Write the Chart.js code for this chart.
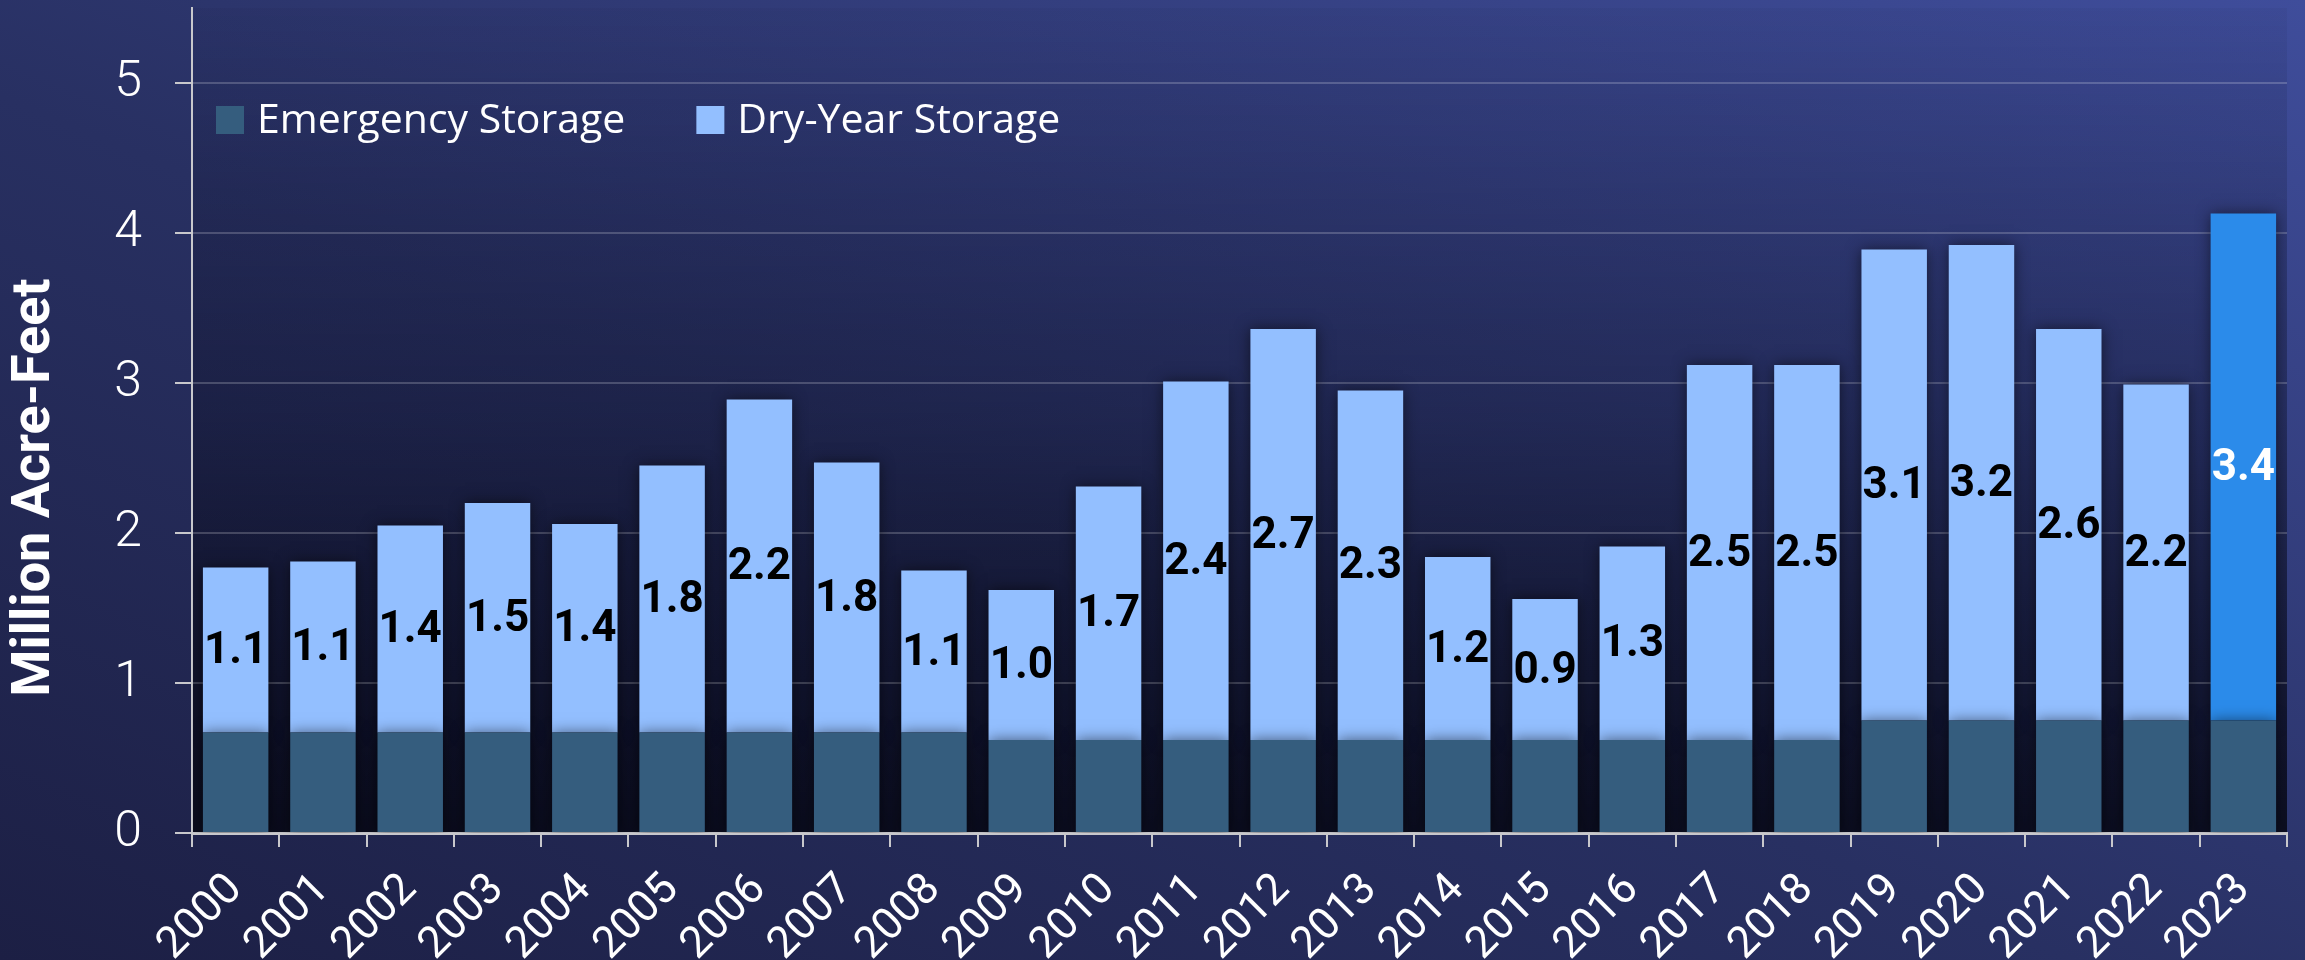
<!DOCTYPE html>
<html>
<head>
<meta charset="utf-8">
<title>Storage</title>
<script src="https://cdn.jsdelivr.net/npm/chart.js@4.4.1/dist/chart.umd.min.js"></script>
<style>
  html, body { margin: 0; padding: 0; }
  body {
    width: 2305px; height: 960px; overflow: hidden;
    background: linear-gradient(to top right, #1c1f44 0%, #283062 45%, #3f4d9b 100%);
  }
  canvas { display: block; }
</style>
</head>
<body>
<canvas id="storageChart" width="2305" height="960"></canvas>
<script>
// years and storage values (million acre-feet)
const years = ['2000','2001','2002','2003','2004','2005','2006','2007','2008','2009','2010','2011',
  '2012','2013','2014','2015','2016','2017','2018','2019','2020','2021','2022','2023'];
const emergencyStorage = [0.67,0.67,0.67,0.67,0.67,0.67,0.67,0.67,0.67,0.62,0.62,0.62,
  0.62,0.62,0.62,0.62,0.62,0.62,0.62,0.75,0.75,0.75,0.75,0.75];
const dryYearStorage = [1.10,1.14,1.38,1.53,1.39,1.78,2.22,1.80,1.08,1.00,1.69,2.39,
  2.74,2.33,1.22,0.94,1.29,2.50,2.50,3.14,3.17,2.61,2.24,3.38];
const yTicks = [0, 1, 2, 3, 4, 5];
const seriesNames = ['Emergency Storage', 'Dry-Year Storage'];

const currentYear = '2023';
const emergencyColor = '#355d7e';
const dryColor = '#93bfff';
const currentColor = '#2b8bea';

// darker wash over the plot area, fading toward the bottom
const plotShade = {
  id: 'plotShade',
  beforeDraw(chart) {
    const { ctx, chartArea: a } = chart;
    const g = ctx.createLinearGradient(0, a.top, 0, a.bottom);
    g.addColorStop(0, 'rgba(10,12,30,0.04)');
    g.addColorStop(0.5, 'rgba(10,12,30,0.35)');
    g.addColorStop(1, 'rgba(8,9,22,0.88)');
    ctx.save();
    ctx.fillStyle = g;
    ctx.fillRect(a.left, a.top, a.right - a.left, a.bottom - a.top);
    ctx.restore();
  }
};

// soft shadow under the bars
const barShadow = {
  id: 'barShadow',
  beforeDatasetsDraw(chart) {
    chart.ctx.save();
    chart.ctx.shadowColor = 'rgba(0,0,0,0.55)';
    chart.ctx.shadowBlur = 14;
  },
  afterDatasetsDraw(chart) {
    chart.ctx.restore();
  }
};

// value labels in the middle of the dry-year segment
const dryLabels = {
  id: 'dryLabels',
  afterDatasetsDraw(chart) {
    const { ctx } = chart;
    const meta = chart.getDatasetMeta(1);
    ctx.save();
    ctx.font = 'bold 44px Roboto, "Liberation Sans", sans-serif';
    ctx.textAlign = 'center';
    ctx.textBaseline = 'middle';
    meta.data.forEach((bar, i) => {
      const p = bar.getProps(['x', 'y', 'base'], true);
      ctx.fillStyle = years[i] === currentYear ? '#ffffff' : '#000000';
      ctx.fillText(dryYearStorage[i].toFixed(1), p.x, (p.y + p.base) / 2 + 2);
    });
    ctx.restore();
  }
};

// legend inside the top-left of the plot, one row
const insideLegend = {
  id: 'insideLegend',
  afterDraw(chart) {
    const { ctx, chartArea: a } = chart;
    const box = 28;
    const cy = a.top + 112;
    let x = a.left + 24;
    ctx.save();
    ctx.font = '41px "Open Sans", sans-serif';
    ctx.textBaseline = 'middle';
    ctx.textAlign = 'left';
    chart.data.datasets.forEach((ds, i) => {
      ctx.fillStyle = i === 0 ? emergencyColor : dryColor;
      ctx.fillRect(x, cy - box / 2, box, box);
      ctx.fillStyle = '#ffffff';
      ctx.fillText(ds.label, x + box + 13, cy + 1);
      x += box + 13 + ctx.measureText(ds.label).width + 71;
    });
    ctx.restore();
  }
};

Chart.defaults.font.family = 'Roboto, "Liberation Sans", sans-serif';
Chart.defaults.color = '#ffffff';

const ctx = document.getElementById('storageChart').getContext('2d');
new Chart(ctx, {
  type: 'bar',
  data: {
    labels: years,
    datasets: [
      {
        label: seriesNames[0],
        data: emergencyStorage,
        backgroundColor: emergencyColor,
        borderWidth: 0,
      },
      {
        label: seriesNames[1],
        data: dryYearStorage,
        backgroundColor: c => years[c.dataIndex] === currentYear ? currentColor : dryColor,
        borderWidth: 0,
      }
    ]
  },
  options: {
    responsive: false,
    animation: false,
    devicePixelRatio: 1,
    layout: { padding: { left: 0, right: 18, top: 8, bottom: 0 } },
    datasets: { bar: { categoryPercentage: 1, barPercentage: 0.75 } },
    plugins: {
      legend: { display: false },
      tooltip: { enabled: false }
    },
    scales: {
      x: {
        stacked: true,
        afterFit: s => { s.height = 127; s.paddingLeft = 0; s.paddingRight = 0; },
        grid: { drawOnChartArea: false, tickLength: 14, tickColor: '#c8c8cc', lineWidth: 2 },
        border: { color: '#c8c8cc', width: 3 },
        ticks: {
          autoSkip: false,
          minRotation: 45,
          maxRotation: 45,
          padding: 17,
          color: '#ffffff',
          font: { size: 44, weight: 400 }
        }
      },
      y: {
        stacked: true,
        min: 0,
        max: 5.5,
        afterFit: s => { s.width = 192; s.paddingTop = 0; s.paddingBottom = 0; },
        afterBuildTicks: s => { s.ticks = yTicks.map(v => ({ value: v })); },
        grid: { color: 'rgba(255,255,255,0.2)', lineWidth: 2, tickLength: 17, tickColor: '#c8c8cc' },
        border: { color: '#c8c8cc', width: 2 },
        ticks: {
          padding: 33,
          color: '#ffffff',
          font: { size: 50, weight: 300 }
        },
        title: {
          display: true,
          text: 'Million Acre-Feet          ',
          color: '#ffffff',
          padding: { top: 3, bottom: 0 },
          font: { size: 54, weight: 'bold' }
        }
      }
    }
  },
  plugins: [plotShade, barShadow, dryLabels, insideLegend]
});
</script>
</body>
</html>
